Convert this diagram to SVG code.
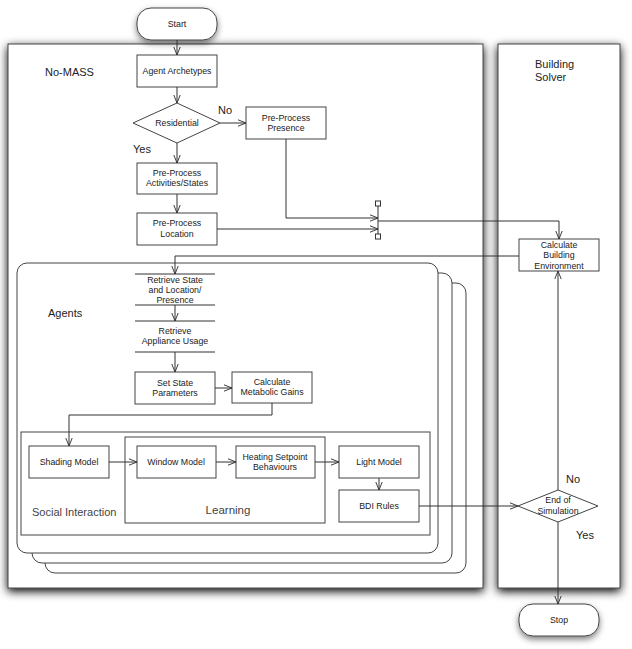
<svg xmlns="http://www.w3.org/2000/svg" width="632" height="649" viewBox="0 0 632 649">
<style>
text{font-family:"Liberation Sans",Arial,sans-serif;fill:#222}
.n{font-size:8.8px;text-anchor:middle}
.l{font-size:11px}
.box{fill:#fff;stroke:#444;stroke-width:1}
.ln{fill:none;stroke:#333;stroke-width:1}
.panel{fill:#fff;stroke:#444;stroke-width:1}
</style>
<defs>
<filter id="sh" x="-10%" y="-10%" width="120%" height="120%">
<feDropShadow dx="0" dy="3" stdDeviation="5" flood-color="#000" flood-opacity="1"/>
</filter>
<filter id="sh2" x="-20%" y="-30%" width="140%" height="170%">
<feDropShadow dx="0" dy="3" stdDeviation="3" flood-color="#000" flood-opacity="0.5"/>
</filter>
<marker id="ar" viewBox="0 0 10 10" refX="10" refY="5" markerWidth="8" markerHeight="8" orient="auto" markerUnits="userSpaceOnUse">
<path d="M0,1 L10,5 L0,9" fill="none" stroke="#333" stroke-width="1.2"/>
</marker>
</defs>

<g id="panel-nomass"><rect class="panel" x="8" y="44" width="475" height="544" filter="url(#sh)"/><text class="l" x="45" y="76">No-MASS</text></g>
<g id="panel-solver"><rect class="panel" x="498" y="44" width="122" height="544" filter="url(#sh)"/><text class="l" x="535" y="68">Building</text><text class="l" x="535" y="81">Solver</text></g>

<g id="agents-stack">
<rect class="box" x="45" y="283" width="421" height="290" rx="10"/>
<rect class="box" x="32" y="273" width="420" height="290" rx="10"/>
<rect class="box" x="17" y="263" width="421" height="290" rx="10"/>
<text class="l" x="48" y="317">Agents</text>
</g>

<g id="start"><rect class="box" x="137" y="8" width="80" height="32" rx="14" filter="url(#sh2)"/><text class="n" x="177" y="27">Start</text></g>
<g id="agent-archetypes"><rect class="box" x="137" y="55" width="80" height="32"/><text class="n" x="177" y="74">Agent Archetypes</text></g>
<g id="residential"><polygon class="box" points="133,123 177,103 220,123 177,143"/><text class="n" x="177" y="126">Residential</text></g>
<g id="pre-presence"><rect class="box" x="246" y="107" width="80" height="32"/><text class="n" x="286" y="121">Pre-Process</text><text class="n" x="286" y="131">Presence</text></g>
<g id="pre-activities"><rect class="box" x="137" y="163" width="80" height="31"/><text class="n" x="177" y="176">Pre-Process</text><text class="n" x="177" y="186">Activities/States</text></g>
<g id="pre-location"><rect class="box" x="137" y="213" width="80" height="32"/><text class="n" x="177" y="226">Pre-Process</text><text class="n" x="177" y="237">Location</text></g>
<g id="junction"><line class="ln" x1="378" y1="206" x2="378" y2="234"/><rect x="375.5" y="201" width="5" height="5" fill="#fff" stroke="#333"/><rect x="375.5" y="234" width="5" height="5" fill="#fff" stroke="#333"/></g>
<g id="calc-building"><rect class="box" x="519" y="239" width="80" height="32"/><text class="n" x="559" y="248">Calculate</text><text class="n" x="559" y="258">Building</text><text class="n" x="559" y="269">Environment</text></g>

<g id="retrieve-state"><rect x="135" y="274" width="80" height="31" fill="#fff"/><line class="ln" x1="135" y1="274" x2="215" y2="274"/><line class="ln" x1="135" y1="305" x2="215" y2="305"/><text class="n" x="175" y="283">Retrieve State</text><text class="n" x="175" y="293">and Location/</text><text class="n" x="175" y="303">Presence</text></g>
<g id="retrieve-appliance"><line class="ln" x1="135" y1="321" x2="215" y2="321"/><line class="ln" x1="135" y1="352" x2="215" y2="352"/><text class="n" x="175" y="334">Retrieve</text><text class="n" x="175" y="344">Appliance Usage</text></g>
<g id="set-state"><rect class="box" x="135" y="372" width="80" height="32"/><text class="n" x="175" y="386">Set State</text><text class="n" x="175" y="396">Parameters</text></g>
<g id="calc-metabolic"><rect class="box" x="232" y="372" width="80" height="31"/><text class="n" x="272" y="385">Calculate</text><text class="n" x="272" y="395">Metabolic Gains</text></g>

<g id="social-interaction"><rect class="box" x="21" y="432" width="409" height="103"/><text x="32" y="516" style="font-size:11px;fill:#444">Social Interaction</text></g>
<g id="learning"><rect class="box" x="125" y="437" width="200" height="86"/><text x="228" y="514" style="font-size:11.5px;fill:#444;text-anchor:middle">Learning</text></g>
<g id="shading"><rect class="box" x="29" y="446" width="80" height="32"/><text class="n" x="69" y="465">Shading Model</text></g>
<g id="window"><rect class="box" x="137" y="446" width="79" height="32"/><text class="n" x="176" y="465">Window Model</text></g>
<g id="heating"><rect class="box" x="236" y="446" width="79" height="32"/><text class="n" x="275" y="460">Heating Setpoint</text><text class="n" x="275" y="470">Behaviours</text></g>
<g id="light"><rect class="box" x="339" y="446" width="80" height="32"/><text class="n" x="379" y="465">Light Model</text></g>
<g id="bdi"><rect class="box" x="339" y="490" width="80" height="32"/><text class="n" x="379" y="509">BDI Rules</text></g>

<g id="end-sim"><polygon class="box" points="518,506 558,490 598,506 558,522"/><text class="n" x="558" y="503">End of</text><text class="n" x="558" y="514">Simulation</text></g>
<g id="stop"><rect class="box" x="519" y="604" width="80" height="32" rx="14" filter="url(#sh2)"/><text class="n" x="559" y="623">Stop</text></g>

<g id="connectors">
<line class="ln" x1="177" y1="40" x2="177" y2="55" marker-end="url(#ar)"/>
<line class="ln" x1="177" y1="87" x2="177" y2="103" marker-end="url(#ar)"/>
<line class="ln" x1="220" y1="123" x2="246" y2="123" marker-end="url(#ar)"/>
<line class="ln" x1="177" y1="143" x2="177" y2="163" marker-end="url(#ar)"/>
<line class="ln" x1="177" y1="194" x2="177" y2="213" marker-end="url(#ar)"/>
<polyline class="ln" points="286,139 286,218 378,218" marker-end="url(#ar)"/>
<line class="ln" x1="217" y1="229" x2="378" y2="229" marker-end="url(#ar)"/>
<polyline class="ln" points="378,221 559,221 559,239" marker-end="url(#ar)"/>
<polyline class="ln" points="519,256 175,256 175,274" marker-end="url(#ar)"/>
<line class="ln" x1="175" y1="305" x2="175" y2="321" marker-end="url(#ar)"/>
<line class="ln" x1="175" y1="352" x2="175" y2="372" marker-end="url(#ar)"/>
<line class="ln" x1="215" y1="388" x2="232" y2="388" marker-end="url(#ar)"/>
<polyline class="ln" points="272,403 272,415 69,415 69,446" marker-end="url(#ar)"/>
<line class="ln" x1="109" y1="462" x2="137" y2="462" marker-end="url(#ar)"/>
<line class="ln" x1="216" y1="462" x2="236" y2="462" marker-end="url(#ar)"/>
<line class="ln" x1="315" y1="462" x2="339" y2="462" marker-end="url(#ar)"/>
<line class="ln" x1="379" y1="478" x2="379" y2="490" marker-end="url(#ar)"/>
<line class="ln" x1="419" y1="506" x2="518" y2="506" marker-end="url(#ar)"/>
<line class="ln" x1="558" y1="490" x2="558" y2="271" marker-end="url(#ar)"/>
<line class="ln" x1="558" y1="522" x2="558" y2="604" marker-end="url(#ar)"/>
<text class="l" x="218" y="114">No</text>
<text class="l" x="133" y="153">Yes</text>
<text class="l" x="566" y="483">No</text>
<text class="l" x="576" y="539">Yes</text>
</g>
</svg>
